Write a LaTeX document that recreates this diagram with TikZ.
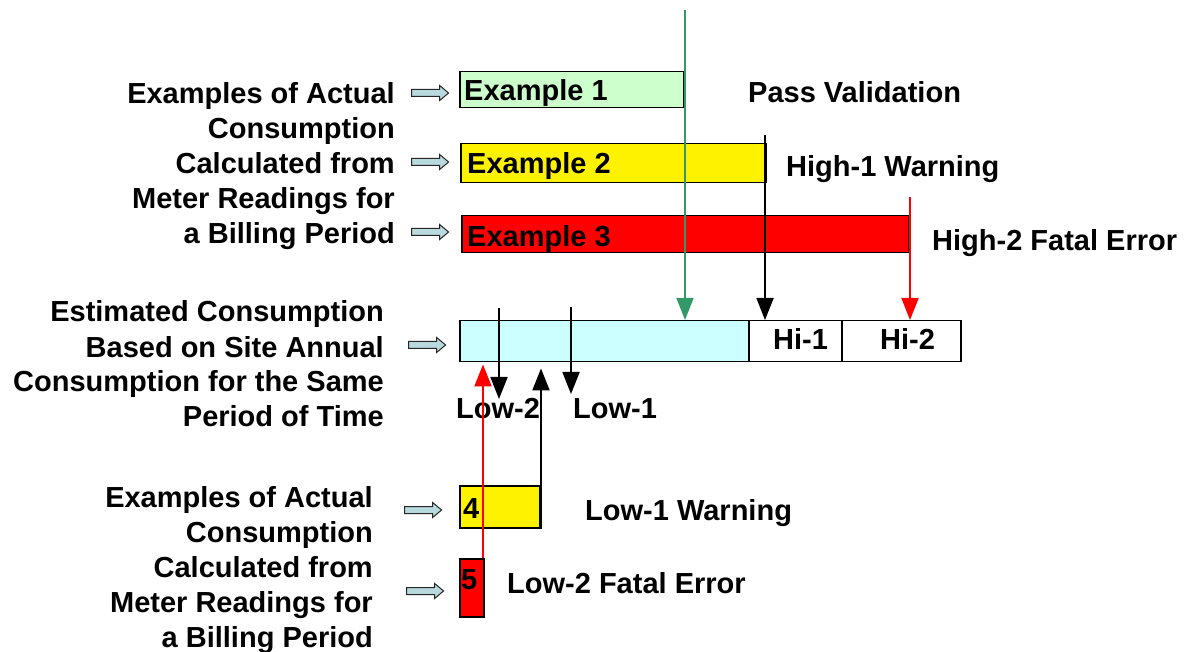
\documentclass[tikz,border=0pt]{standalone}
\usepackage{fontspec}
\setmainfont{Liberation Sans}
\usetikzlibrary{arrows.meta,shapes.arrows}

\definecolor{passgreen}{HTML}{339966}
\definecolor{lightgreen}{HTML}{CCFFCC}
\definecolor{lightcyan}{HTML}{CCFFFF}
\definecolor{arrowfill}{HTML}{B8DADF}

\tikzset{
  lbl/.style={font=\bfseries\fontsize{29}{35}\selectfont, inner sep=0pt},
  bar/.style={draw=black, line width=1.5pt, inner sep=0pt, anchor=north west},
  pointer/.style={shape=single arrow, draw=black!85, fill=arrowfill, line width=1pt,
    minimum height=37pt, minimum width=0pt, inner xsep=0pt, inner ysep=3pt,
    single arrow head extend=4pt, single arrow tip angle=80},
  tipped/.style={-{Triangle[length=22pt,width=17pt]}},
}

\begin{document}
\begin{tikzpicture}[x=1pt,y=-1pt]
\useasboundingbox (0,0) rectangle (1187,652);

% ---- left-hand descriptions (anchored on their last baseline)
\node[lbl, align=right, anchor=base east] (descA) at (395,244)
  {Examples of Actual\\Consumption\\Calculated from\\Meter Readings for\\a Billing Period};
\node[lbl, align=right, anchor=base east] (descE) at (384,427)
  {Estimated Consumption\\Based on Site Annual\\Consumption for the Same\\Period of Time};
\node[lbl, align=right, anchor=base east] (descB) at (373,647)
  {Examples of Actual\\Consumption\\Calculated from\\Meter Readings for\\a Billing Period};

% ---- block pointers
\node[pointer] (p1) at (428,93) {};
\node[pointer] (p2) at (428,162) {};
\node[pointer] (p3) at (428,232) {};
\node[pointer] (p4) at (425,345) {};
\node[pointer] (p5) at (421,510) {};
\node[pointer] (p6) at (423,591) {};

% ---- example bars (high side)
\node[bar, fill=lightgreen, minimum width=224pt, minimum height=36pt] (ex1) at (459,71) {};
\node[lbl, anchor=base west] (ex1t) at (464,101) {Example 1};
\node[bar, fill=yellow, minimum width=305pt, minimum height=39pt] (ex2) at (460,143) {};
\node[lbl, anchor=base west] (ex2t) at (467,174) {Example 2};
\node[bar, fill=red, minimum width=447pt, minimum height=37pt] (ex3) at (461,215) {};
\node[lbl, anchor=base west] (ex3t) at (467,247) {Example 3};

% ---- estimated consumption band and thresholds
\node[bar, fill=lightcyan, minimum width=289pt, minimum height=41pt] (est) at (459,320) {};
\node[bar, fill=white, minimum width=93pt, minimum height=41pt] (hi1) at (748,320) {};
\node[bar, fill=white, minimum width=119pt, minimum height=41pt] (hi2) at (841,320) {};
\node[lbl, anchor=base west] (hi1t) at (773,350) {Hi-1};
\node[lbl, anchor=base west] (hi2t) at (880,350) {Hi-2};

% ---- example bars (low side)
\node[bar, fill=yellow, minimum width=80pt, minimum height=42pt] (b4) at (459,485) {};
\node[lbl, anchor=base west] (b4t) at (463,518) {4};
\node[bar, fill=red, minimum width=24pt, minimum height=58pt] (b5) at (459,558) {};
\node[lbl, anchor=base west] (b5t) at (461,589) {5};

% ---- outcome labels
\node[lbl, anchor=base west] (pass) at (748,103) {Pass Validation};
\node[lbl, anchor=base west] (warn1) at (786,177) {High-1 Warning};
\node[lbl, anchor=base west] (err2) at (932,251) {High-2 Fatal Error};
\node[lbl, anchor=base west] (lowtwo) at (456,419) {Low-2};
\node[lbl, anchor=base west] (lowone) at (573,419) {Low-1};
\node[lbl, anchor=base west] (lwarn) at (585,520) {Low-1 Warning};
\node[lbl, anchor=base west] (lerr) at (507,593) {Low-2 Fatal Error};

% ---- limit markers
\coordinate (gtop) at (685,10);
\coordinate (k1) at (765,135);
\coordinate (r1) at (910,197);
\coordinate (l2top) at (499,308);
\coordinate (l2end) at (499,399);
\coordinate (l1top) at (571,307);
\coordinate (l1end) at (571,394);

\draw[tipped, passgreen, line width=1.6pt] (gtop) -- (gtop |- est.north);
\draw[tipped, black, line width=1.8pt] (k1) -- (k1 |- hi1.north);
\draw[tipped, red, line width=1.8pt] (r1) -- (r1 |- hi2.north);
\draw[tipped, black, line width=1.8pt] (l2top) -- (l2end);
\draw[tipped, black, line width=1.8pt] (l1top) -- (l1end);
\draw[tipped, black, line width=2pt] ([xshift=0.5pt]b4.south east) -- ([xshift=0.5pt,yshift=-6pt]b4.south east |- est.south);
\draw[tipped, red, line width=2pt] ([xshift=-1.5pt]b5.north east) -- ([xshift=-1.5pt,yshift=-2pt]b5.north east |- est.south);
\end{tikzpicture}
\end{document}
